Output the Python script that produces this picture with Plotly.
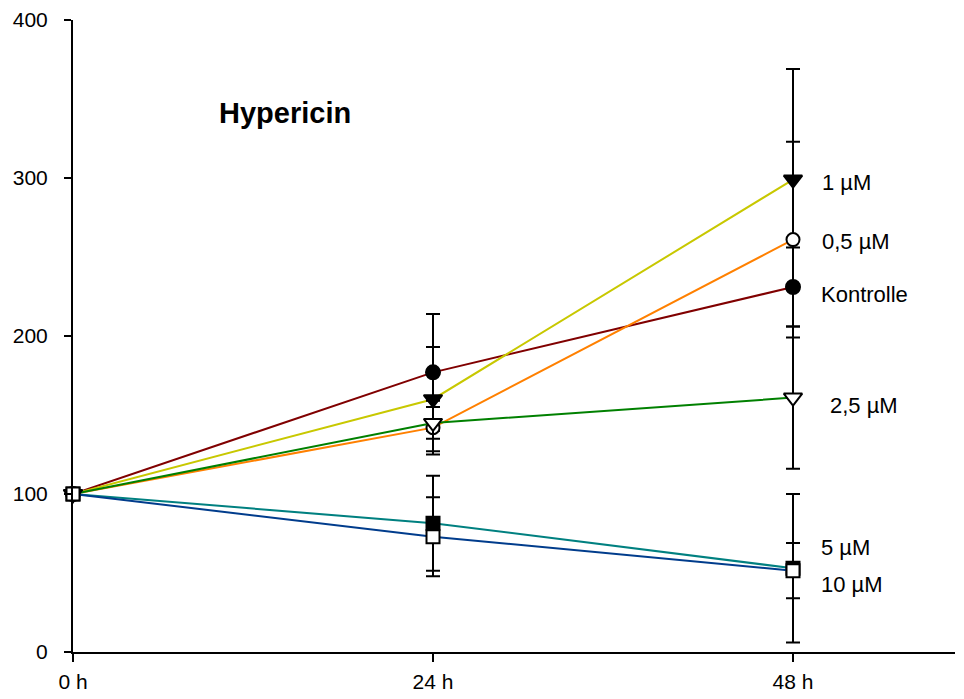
import plotly.graph_objects as go

# Time points (hours) and tick labels
hours = [0, 24, 48]
tick_text = ["0 h", "24 h", "48 h"]

# Cell growth (% of start) per treatment, with standard deviation
kontrolle = [100, 177, 231]
kontrolle_sd = [0, 37, 25]
um_1 = [100, 160, 299]
um_1_sd = [0, 33, 70]
um_0_5 = [100, 142, 261]
um_0_5_sd = [0, 17, 62]
um_2_5 = [100, 145, 161]
um_2_5_sd = [0, 10, 45]
um_5 = [100, 81.5, 53]
um_5_sd = [0, 30, 47]
um_10 = [100, 73, 51.5]
um_10_sd = [0, 25, 17.5]

series = [
    ("Kontrolle", kontrolle, kontrolle_sd, "#800000", "circle", "black", 14),
    ("1 µM", um_1, um_1_sd, "#C8C800", "triangle-down", "black", 16),
    ("0,5 µM", um_0_5, um_0_5_sd, "#FF8000", "circle", "white", 13),
    ("2,5 µM", um_2_5, um_2_5_sd, "#008000", "triangle-down", "white", 16),
    ("5 µM", um_5, um_5_sd, "#008080", "square", "black", 13),
    ("10 µM", um_10, um_10_sd, "#003C8C", "square", "white", 13),
]

# End-of-line labels: (text, x in hours, y value)
end_labels = [
    ("1 µM", 49.8, 297),
    ("0,5 µM", 49.8, 260),
    ("Kontrolle", 49.7, 226),
    ("2,5 µM", 50.3, 156),
    ("5 µM", 49.75, 66),
    ("10 µM", 49.75, 43),
]

fig = go.Figure()
for name, vals, sd, col, sym, fill, size in series:
    fig.add_trace(go.Scatter(
        x=hours, y=vals, name=name, mode="lines+markers",
        line=dict(color=col, width=2),
        marker=dict(symbol=sym, size=size, color=fill,
                    line=dict(color="black", width=2)),
        error_y=dict(type="data", array=sd, visible=True,
                     color="black", thickness=2, width=7),
        cliponaxis=False,
    ))

font = "Liberation Sans, Arial, sans-serif"
for text, xv, yv in end_labels:
    fig.add_annotation(x=xv, y=yv, text=text, showarrow=False,
                       xanchor="left", yanchor="middle",
                       font=dict(family=font, size=22, color="black"))

fig.add_annotation(x=14.1, y=341, text="<b>Hypericin</b>", showarrow=False,
                   xanchor="center", yanchor="middle",
                   font=dict(family=font, size=29, color="black"))

fig.update_layout(
    width=964, height=699,
    margin=dict(l=73, r=9, t=20, b=47),
    paper_bgcolor="white", plot_bgcolor="white",
    showlegend=False,
    font=dict(family=font, size=21, color="black"),
)
fig.update_xaxes(
    range=[0, 58.8], tickvals=hours, ticktext=tick_text,
    showgrid=False, zeroline=False, showline=True, linecolor="black",
    linewidth=2, ticks="outside", ticklen=8, tickwidth=2, tickcolor="black",
    ticklabelstandoff=2, automargin=False,
)
fig.update_yaxes(
    range=[0, 400], tickvals=[0, 100, 200, 300, 400],
    showgrid=False, zeroline=False, showline=True, linecolor="black",
    linewidth=2, ticks="outside", ticklen=7, tickwidth=2, tickcolor="black",
    ticklabelstandoff=12, automargin=False,
)

fig.write_html("out.html")
